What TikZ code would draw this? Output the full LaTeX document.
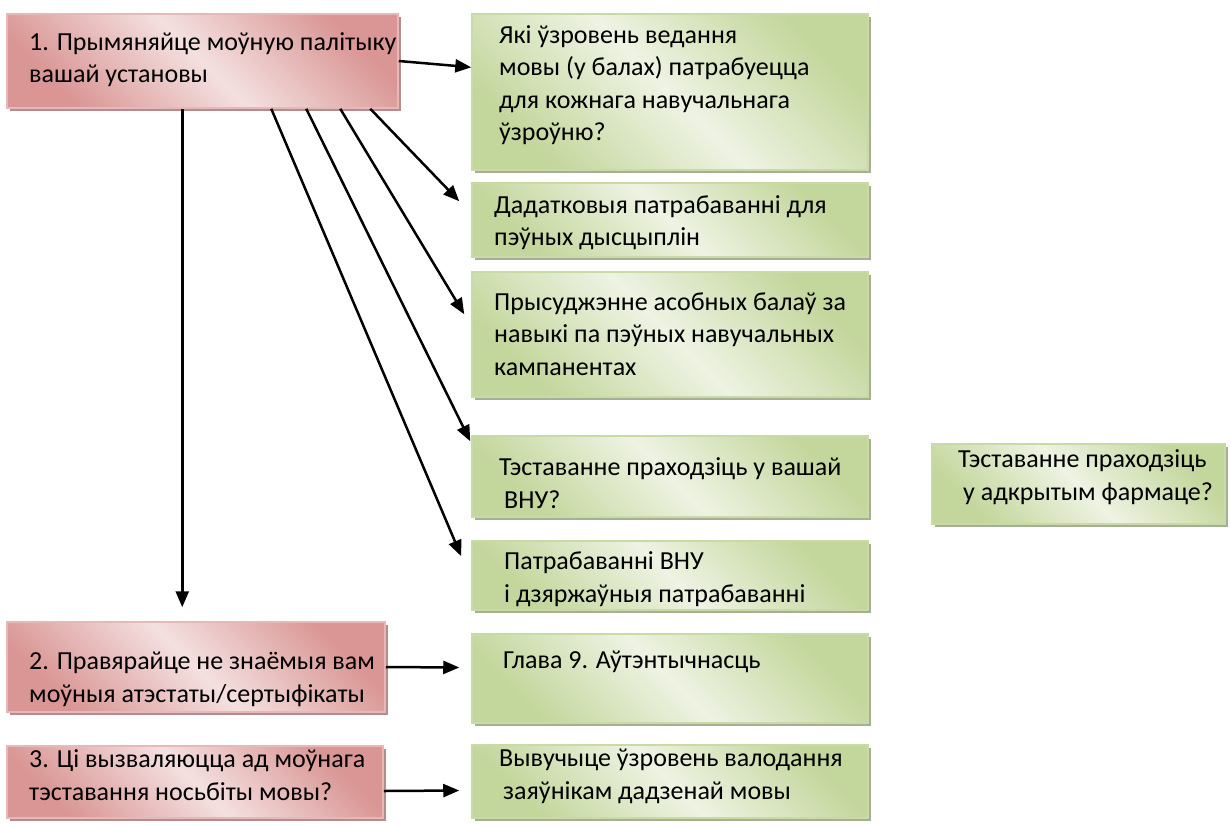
\documentclass[tikz,border=0pt]{standalone}
\usepackage{fontspec}
\setmainfont{Carlito}
\usetikzlibrary{arrows.meta,shadows,fit}
\definecolor{reddark}{HTML}{D99694}
\definecolor{redlight}{HTML}{F4E0E0}
\definecolor{redline}{HTML}{E6B9B8}
\definecolor{redshadow}{HTML}{B48C8C}
\definecolor{greendark}{HTML}{C3D69B}
\definecolor{greenlight}{HTML}{EEF3E3}
\definecolor{greenline}{HTML}{C8DBA5}
\definecolor{greenshadow}{HTML}{A8AE96}
\tikzset{
  box/.style = {inner sep = 0pt, line width = 1.5pt},
  redbox/.style = {box, draw = redline, top color = reddark, bottom color = reddark,
                   middle color = redlight, shading angle = -45,
                   drop shadow = {shadow xshift = 3pt, shadow yshift = -3pt,
                                  fill = redshadow, opacity = 1}},
  greenbox/.style = {box, draw = greenline, top color = greendark, bottom color = greendark,
                     middle color = greenlight, shading angle = -45,
                     drop shadow = {shadow xshift = 3pt, shadow yshift = -3pt,
                                    fill = greenshadow, opacity = 1}},
  boxtext/.style = {anchor = base west, align = left, inner sep = 0pt,
                    font = \fontsize{26}{32.5}\selectfont},
  arr/.style = {line width = 2.5pt, -{Triangle[length = 16pt, width = 13pt]}}
}
\begin{document}
\begin{tikzpicture}[x = 1pt, y = -1pt]
  \useasboundingbox [fill = white] (0,0) rectangle (1230,825);
  \node [redbox, fit = {(7,14) (398,108)}] (b1) {};
  \node [redbox, fit = {(7,622) (385,712)}] (b2) {};
  \node [redbox, fit = {(7,746) (383,818)}] (b3) {};
  \node [greenbox, fit = {(472,14) (868,170)}] (g1) {};
  \node [greenbox, fit = {(472,183) (868,257)}] (g2) {};
  \node [greenbox, fit = {(472,272) (868,397)}] (g3) {};
  \node [greenbox, fit = {(472,436) (868,517)}] (g4) {};
  \node [greenbox, fit = {(472,541) (868,610)}] (g5) {};
  \node [greenbox, fit = {(472,634) (868,723)}] (g6) {};
  \node [greenbox, fit = {(472,745) (868,818)}] (g7) {};
  \node [greenbox, fit = {(932,444) (1225,524)}] (g8) {};

  \node [boxtext] (t1) at (29,82.5) {1. Прымяняйце моўную палітыку\\вашай установы};
  \node [boxtext] (t2) at (29,702) {2. Правярайце не знаёмыя вам\\моўныя атэстаты/сертыфікаты};
  \node [boxtext] (t3) at (29,800) {3. Ці вызваляюцца ад моўнага\\тэставання носьбіты мовы?};
  \node [boxtext] (s1) at (499,140.5) {Які ўзровень ведання\\мовы (у балах) патрабуецца\\для кожнага навучальнага\\ўзроўню?};
  \node [boxtext] (s2) at (494,245.5) {Дадатковыя патрабаванні для\\пэўных дысцыплін};
  \node [boxtext] (s3) at (494,375) {Прысуджэнне асобных балаў за\\навыкі па пэўных навучальных\\кампанентах};
  \node [boxtext] (s4) at (499,508) {Тэставанне праходзіць у вашай\\\hspace*{5pt}ВНУ?};
  \node [boxtext] (s5) at (504,602) {Патрабаванні ВНУ\\і дзяржаўныя патрабаванні};
  \node [boxtext] (s6) at (503,668) {Глава 9. Аўтэнтычнасць};
  \node [boxtext] (s7) at (499,799) {Вывучыце ўзровень валодання\\\hspace*{4pt}заяўнікам дадзенай мовы};
  \node [boxtext] (s8) at (958,500) {Тэставанне праходзіць\\\hspace*{5pt}у адкрытым фармаце?};

  \draw [arr] (b1.east) -- ([yshift = -54pt] g1.north west);
  \draw [arr] ([xshift = 176pt] b1.south west) -- ([xshift = 176pt, yshift = 14pt] b2.north west);
  \draw [arr] ([xshift = 364pt] b1.south west) -- ([xshift = -12pt, yshift = -19pt] g2.north west);
  \draw [arr] ([xshift = 334pt] b1.south west) -- ([xshift = -7pt, yshift = -43pt] g3.north west);
  \draw [arr] ([xshift = 300pt] b1.south west) -- ([xshift = -1pt, yshift = -6pt] g4.north west);
  \draw [arr] ([xshift = 265pt] b1.south west) -- ([xshift = -10pt, yshift = -16pt] g5.north west);
  \draw [arr] (b2.east) -- ([xshift = -12pt, yshift = 11pt] g6.west);
  \draw [arr] ([yshift = -9pt] b3.east) -- ([xshift = -12pt, yshift = -9pt] g7.west);
\end{tikzpicture}
\end{document}
